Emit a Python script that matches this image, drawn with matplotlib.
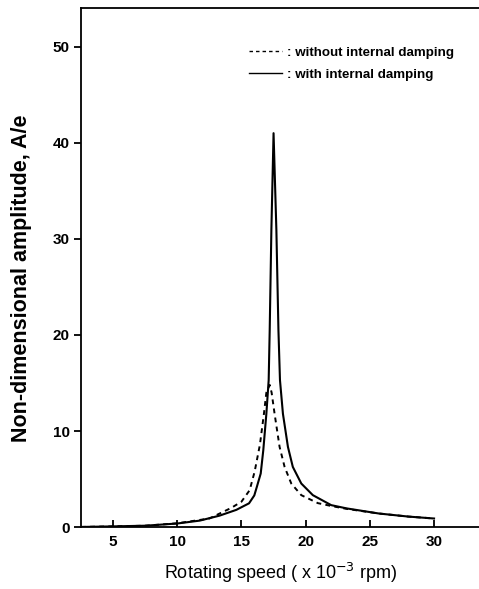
import matplotlib
matplotlib.use("Agg")
import matplotlib.pyplot as plt

plt.rcParams['font.family'] = ['Liberation Sans', 'DejaVu Sans']

# with internal damping (solid)
x_with = [2.5, 5, 7.5, 10, 11.75, 13.3, 14.6, 15.59, 16.0, 16.2, 16.5, 16.7, 16.94,
          17.12, 17.2, 17.33, 17.5, 17.72, 17.88, 18.0, 18.23, 18.62, 19.0, 19.66,
          20.56, 21.99, 23.2, 25.7, 28, 30]
y_with = [0.02, 0.08, 0.15, 0.38, 0.68, 1.2, 1.8, 2.48, 3.3, 4.2, 5.58, 8.0, 11.8,
          15.3, 20.5, 30.9, 41, 30.9, 20.5, 15.3, 11.8, 8.35, 6.27, 4.54,
          3.33, 2.29, 1.95, 1.42, 1.1, 0.9]

# without internal damping (dashed)
x_without = [2.5, 5, 7.5, 10, 12.5, 14.2, 15.0, 15.64, 16.03, 16.44, 16.75, 16.94,
             17.2, 17.35, 17.58, 17.97, 18.36, 18.88, 19.66, 20.95, 22, 23.2, 25.7,
             28, 30]
y_without = [0.02, 0.08, 0.15, 0.4, 0.9, 2.0, 2.65, 3.85, 5.8, 8.6, 11.8, 14.0,
             14.8, 14.0, 11.8, 8.35, 6.27, 4.54, 3.33, 2.5, 2.2, 1.9, 1.42,
             1.1, 0.9]

xticks = [5, 10, 15, 20, 25, 30]
yticks = [0, 10, 20, 30, 40, 50]

fig = plt.figure(figsize=(4.79, 5.89), dpi=100)
ax = fig.add_axes([0.169, 0.105, 0.831, 0.881])

l1, = ax.plot(x_without, y_without, color='black', lw=1.4, ls=(0, (2.5, 2.2)))
l2, = ax.plot(x_with, y_with, color='black', lw=1.5)

ax.set_xlim(2.5, 33.5)
ax.set_ylim(0, 54)
ax.set_xticks(xticks)
ax.set_yticks(yticks)
ax.spines['right'].set_visible(False)
for s in ['left', 'bottom', 'top']:
    ax.spines[s].set_linewidth(1.3)
ax.tick_params(axis='x', direction='in', length=5, width=1.3, labelsize=11, pad=6)
ax.tick_params(axis='y', direction='out', length=5, width=1.3, labelsize=11, pad=3)
for lab in ax.get_xticklabels() + ax.get_yticklabels():
    lab.set_fontweight('bold')

fig.text(281 / 479, 1 - 573 / 589, 'Rotating speed ( x 10$^{-3}$ rpm)', fontsize=13,
         ha='center', va='center')
fig.text(22 / 479, 1 - 278 / 589, 'Non-dimensional amplitude, A/e', fontsize=15.5,
         fontweight='bold', rotation=90, ha='center', va='center')

leg = ax.legend([l1, l2], [': without internal damping', ': with internal damping'],
                loc='upper left', bbox_to_anchor=(0.393, 0.95), frameon=False,
                handlelength=2.45, handletextpad=0.35, fontsize=9.6, labelspacing=0.75)
for t in leg.get_texts():
    t.set_fontweight('bold')
for h in leg.get_lines():
    h.set_linewidth(1.0)

fig.savefig('out.png', dpi=100)
